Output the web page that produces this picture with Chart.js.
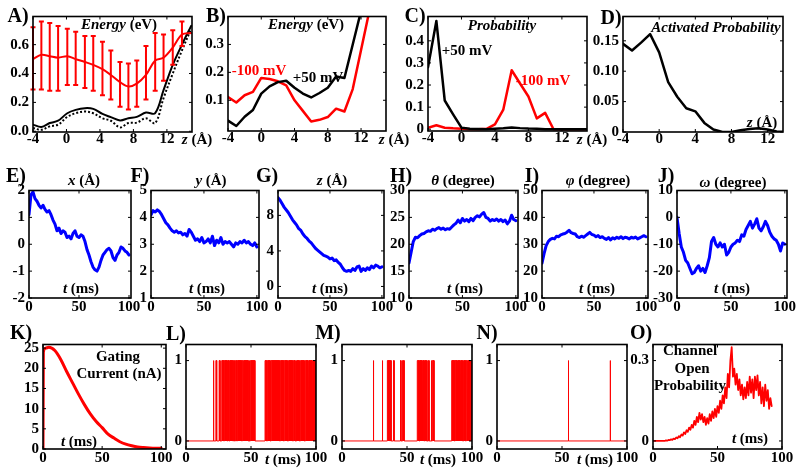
<!DOCTYPE html>
<html>
<head>
<meta charset="utf-8">
<script src="https://cdn.jsdelivr.net/npm/chart.js@4.4.0/dist/chart.umd.min.js"></script>
<style>
  body { margin: 0; width: 800px; height: 474px; background: #fff; position: relative; overflow: hidden; }
  canvas.p { position: absolute; }
  .t { position: absolute; transform: translate(-50%, -50%); white-space: nowrap; line-height: 1;
       font-family: 'Liberation Serif', 'Times New Roman', serif; font-weight: bold; font-size: 15px; color: #000; z-index: 5; }
</style>
</head>
<body>
<script>
// ---- row 1: energy / probability profiles along z (Å) ----
const aZ = [-4, -3, -2, -1, 0.1, 1.1, 2.2, 3.2, 4.3, 5.3, 6.4, 7.4, 8.4, 9.5, 10.6, 11.6, 12.7, 13.8, 14.9];
const aRed = [0.50, 0.53, 0.52, 0.51, 0.52, 0.50, 0.48, 0.46, 0.43, 0.39, 0.34, 0.31, 0.33, 0.39, 0.49, 0.51, 0.58, 0.67, 0.68];
const aHi = [0.72, 0.76, 0.75, 0.73, 0.71, 0.69, 0.66, 0.66, 0.62, 0.56, 0.48, 0.47, 0.49, 0.59, 0.68, 0.67, 0.70, 0.76];
const aLo = [0.29, 0.29, 0.28, 0.28, 0.32, 0.32, 0.30, 0.28, 0.25, 0.22, 0.17, 0.15, 0.17, 0.22, 0.28, 0.35, 0.46, 0.59];
const aSolid = [0.046, 0.03, 0.057, 0.073, 0.125, 0.148, 0.16, 0.155, 0.12, 0.098, 0.075, 0.09, 0.1, 0.13, 0.125, 0.285, 0.46, 0.6, 0.73];
const aDot = [0.023, 0.01, 0.034, 0.046, 0.10, 0.125, 0.137, 0.125, 0.09, 0.073, 0.027, 0.057, 0.06, 0.09, 0.057, 0.23, 0.40, 0.56, 0.71];

const zInt = [-4, -3, -2, -1, 0, 1, 2, 3, 4, 5, 6, 7, 8, 9, 10, 11, 12, 13, 14, 15];
const bPlus50 = [0.027, 0.008, 0.041, 0.065, 0.124, 0.15, 0.165, 0.17, 0.145, 0.124, 0.11, 0.126, 0.145, 0.185, 0.18, 0.3, 0.42, 0.8];
const bMinus100 = [0.112, 0.092, 0.118, 0.13, 0.18, 0.176, 0.168, 0.153, 0.10, 0.062, 0.024, 0.03, 0.04, 0.07, 0.06, 0.14, 0.28, 0.42, 0.75];
const cPlus50 = [0.28, 0.49, 0.13, 0.067, 0.007, 0.002, 0.001, 0, 0.002, 0.004, 0.008, 0.005, 0.003, 0.002, 0, 0, 0, 0, 0, 0];
const cMinus100 = [0.007, 0.018, 0.007, 0.004, 0.002, 0, 0, 0.002, 0.022, 0.089, 0.267, 0.207, 0.148, 0.049, 0.074, 0, 0, 0, 0, 0];
const dActive = [0.145, 0.134, 0.147, 0.161, 0.131, 0.082, 0.058, 0.039, 0.034, 0.015, 0.004, 0, 0, 0.003, 0.005, 0.006, 0.004, 0.001, 0];

const zTicks = [-4, 0, 4, 8, 12];
const zTickLabels = ['-4', '0', '4', '8', '12'];

// ---- row 2: trajectories vs t (ms) ----
const tRow2 = [0, 2, 4, 6, 8, 10, 12, 14, 16, 18, 20, 22, 24, 26, 28, 30, 32, 34, 36, 38, 40, 42, 44, 46, 48, 50,
  52, 54, 56, 58, 60, 62, 64, 66, 68, 70, 72, 74, 76, 78, 80, 82, 84, 86, 88, 90, 92, 94, 96, 98, 100];
const eX = [1.1, 1.85, 1.95, 1.7, 1.6, 1.45, 1.35, 1.45, 1.3, 1.2, 1.25, 1.1, 0.9, 0.75, 0.5, 0.6, 0.4, 0.5, 0.45, 0.25, 0.3, 0.2, 0.4, 0.5, 0.3, 0.25,
  0.35, 0.3, 0.1, -0.2, -0.4, -0.65, -0.85, -0.95, -1.0, -0.85, -0.6, -0.4, -0.3, -0.2, -0.15, -0.25, -0.5, -0.6, -0.4, -0.3, -0.1, -0.15, -0.25, -0.3, -0.4];
const fY = [4.1, 4.25, 4.2, 4.28, 4.22, 4.1, 3.95, 3.8, 3.72, 3.6, 3.5, 3.45, 3.5, 3.42, 3.45, 3.35, 3.4, 3.3, 3.55, 3.45, 3.3, 3.15, 3.2, 3.1, 3.25, 3.05,
  3.1, 3.2, 3.05, 3.3, 2.95, 3.15, 3.05, 3.25, 3.0, 3.1, 3.05, 3.1, 3.0, 2.9, 3.05, 3.0, 3.1, 3.05, 3.15, 3.05, 3.1, 3.0, 2.95, 3.05, 2.9];
const gZ = [10.0, 9.7, 9.3, 8.9, 8.6, 8.3, 7.9, 7.5, 7.2, 6.9, 6.5, 6.3, 5.9, 5.6, 5.4, 5.1, 4.9, 4.6, 4.3, 4.1, 3.9, 3.7, 3.5, 3.4, 3.3, 3.1,
  3.2, 2.9, 3.0, 2.7, 2.5, 2.1, 1.8, 1.7, 1.8, 1.7, 2.0, 1.8, 2.2, 2.3, 1.7, 2.0, 1.8, 2.1, 1.9, 2.3, 2.1, 2.4, 2.3, 2.1, 2.2];
const hTheta = [16.5, 18.5, 20.5, 21.3, 21.2, 21.6, 21.9, 22.0, 22.3, 22.5, 22.4, 22.8, 22.6, 22.9, 23.1, 22.8, 23.0, 22.7, 22.9, 22.8, 23.2, 23.6, 23.9, 24.5, 24.0, 24.8,
  24.3, 24.6, 24.2, 24.8, 24.4, 25.0, 25.3, 25.1, 25.6, 25.9, 25.0, 24.8, 24.3, 24.6, 24.4, 24.7, 24.3, 24.6, 24.2, 24.5, 23.8, 24.3, 25.4, 24.6, 24.4];
const iPhi = [23, 26.5, 29.5, 31, 31.8, 32.2, 32.0, 33.0, 32.8, 33.5, 33.8, 34.0, 34.5, 35.2, 34.3, 34.0, 33.8, 32.8, 32.5, 33.0, 32.6, 33.2, 33.8, 34.4, 33.6, 33.4,
  32.8, 33.2, 32.5, 32.8, 32.2, 31.8, 32.5, 31.6, 32.4, 32.0, 32.6, 32.2, 32.8, 32.1, 32.6, 32.4, 32.0, 32.6, 32.3, 32.7, 32.0, 32.4, 32.8, 33.2, 32.8];
const jOmega = [0, -6, -11, -13, -16, -17, -19, -21, -20.5, -19, -18, -20, -19, -20.5, -18, -15, -9, -7.5, -10, -11, -9.5, -11, -10, -14, -13, -11,
  -10, -9.5, -8.5, -9, -6.5, -7, -4.5, -3, -1.5, -4, -2.5, -0.5, -4, -5, -3.5, -1.5, -3, -5.5, -7, -8, -8.5, -10, -12.5, -9.5, -10];

// ---- row 3: gating current, single channel records, open probability ----
const kT = [0, 0.3, 2, 5, 10, 15, 20, 25, 30, 35, 40, 45, 50, 55, 60, 65, 70, 75, 80, 85, 90, 95, 100];
const kCurrent = [0, 24, 25.0, 25.2, 24.4, 22.2, 19.2, 16.4, 13.6, 11.0, 8.7, 6.8, 5.3, 3.7, 2.7, 1.8, 1.2, 0.8, 0.5, 0.35, 0.25, 0.2, 0.2];
const lOpen = [[21, 21.4], [23, 23.6], [25.5, 26.2], [27.5, 29], [29.5, 31.5], [32, 33], [33.6, 36], [36.5, 37.2], [38, 39], [39.5, 42.8],
  [43.3, 44], [44.5, 47.9], [48.5, 49], [49.5, 53], [60.8, 62], [62.6, 64.8], [65.5, 72], [72.6, 75], [75.6, 78], [78.8, 82],
  [82.6, 84], [85, 87.2], [88, 91], [91.8, 94], [94.6, 97], [97.6, 100]];
const mOpen = [[24, 24.4], [30.9, 31.3], [34.9, 36.8], [37.2, 37.8], [39.6, 40.1], [45, 45.4], [46.6, 47], [47.4, 47.8], [57.9, 59.5],
  [60, 61.6], [62.2, 63], [63.5, 64.5], [65, 65.4], [66.5, 67], [68.5, 69], [69.5, 70.8], [84.4, 86.5], [87, 88.5], [89, 91],
  [91.5, 92.8], [93.5, 95], [95.6, 96.2], [96.8, 98.3], [98.8, 100]];
const nOpen = [[54.8, 55.1], [87, 87.3]];
const oT = [0, 1, 2, 3, 4, 5, 6, 7, 8, 9, 10, 11, 12, 13, 14, 15, 16, 17, 18, 19, 20, 21, 22, 23, 24, 25, 26, 27, 28, 29,
  30, 31, 32, 33, 34, 35, 36, 37, 38, 39, 40, 41, 42, 43, 44, 45, 46, 47, 48, 49, 50, 51, 52, 53, 54, 55, 56, 57, 58, 59,
  60, 61, 62, 63, 64, 65, 66, 67, 68, 69, 70, 71, 72, 73, 74, 75, 76, 77, 78, 79, 80, 81, 82, 83, 84, 85, 86, 87, 88, 89, 90, 91, 92];
const oProb = [0, 0, 0, 0, 0, 0, 0, 0, 0, 0,
  0.002, 0.001, 0.004, 0.003, 0.006, 0.004, 0.009, 0.007, 0.013, 0.01,
  0.018, 0.014, 0.024, 0.02, 0.032, 0.026, 0.04, 0.034, 0.05, 0.042,
  0.06, 0.05, 0.075, 0.06, 0.09, 0.07, 0.105, 0.08, 0.1, 0.07,
  0.09, 0.06, 0.085, 0.065, 0.1, 0.075, 0.11, 0.085, 0.12, 0.09,
  0.13, 0.105, 0.15, 0.12, 0.17, 0.14, 0.2, 0.16, 0.25, 0.2,
  0.3, 0.35, 0.24, 0.27, 0.21, 0.25, 0.19, 0.23, 0.17, 0.21,
  0.155, 0.2, 0.16, 0.22, 0.17, 0.24, 0.18, 0.23, 0.16, 0.24,
  0.19, 0.245, 0.17, 0.22, 0.14, 0.2, 0.13, 0.21, 0.15, 0.19,
  0.12, 0.16, 0.13];

const tTicks = [0, 50, 100];
const tTickLabels = ['0', '50', '100'];

// ---------------------------------------------------------------
const SERIF = "'Liberation Serif', 'Times New Roman', serif";
const FONT = { family: SERIF, size: 15, weight: 'bold', lineHeight: 1 };
const PL = 44, PR = 18, PT = 10, PB = 24;
const RED = '#ff0000', BLUE = '#0000ff';

// box + MATLAB style inward ticks
const frame = {
  id: 'frame',
  afterDatasetsDraw(chart) {
    const { ctx, chartArea: a, scales: { x, y } } = chart;
    ctx.save();
    ctx.strokeStyle = '#000';
    ctx.lineWidth = 1;
    ctx.beginPath();
    x.ticks.forEach(t => {
      const px = x.getPixelForValue(t.value);
      ctx.moveTo(px, a.bottom); ctx.lineTo(px, a.bottom - 3);
      ctx.moveTo(px, a.top); ctx.lineTo(px, a.top + 3);
    });
    y.ticks.forEach(t => {
      const py = y.getPixelForValue(t.value);
      ctx.moveTo(a.left, py); ctx.lineTo(a.left + 3, py);
      ctx.moveTo(a.right, py); ctx.lineTo(a.right - 3, py);
    });
    ctx.stroke();
    ctx.lineWidth = 1.6;
    ctx.strokeRect(a.left, a.top, a.right - a.left, a.bottom - a.top);
    ctx.restore();
  }
};

// error bars for panel A
const errBars = {
  id: 'errBars',
  afterDatasetsDraw(chart) {
    const { ctx, scales: { x, y } } = chart;
    ctx.save();
    ctx.strokeStyle = RED;
    ctx.lineWidth = 2;
    ctx.beginPath();
    aLo.forEach((lo, i) => {
      const px = x.getPixelForValue(aZ[i]);
      const p1 = y.getPixelForValue(lo), p2 = y.getPixelForValue(aHi[i]);
      ctx.moveTo(px, p1); ctx.lineTo(px, p2);
      ctx.moveTo(px - 2.5, p1); ctx.lineTo(px + 2.5, p1);
      ctx.moveTo(px - 2.5, p2); ctx.lineTo(px + 2.5, p2);
    });
    ctx.stroke();
    ctx.restore();
  }
};

function axis(id, ax) {
  return {
    type: 'linear', min: ax.r[0], max: ax.r[1],
    grid: { display: false, drawTicks: false },
    border: { display: false },
    afterBuildTicks: s => { s.ticks = ax.t.map(v => ({ value: v })); },
    afterFit: s => { if (id === 'x') s.height = PB; else s.width = PL; },
    ticks: {
      font: FONT, color: '#000', padding: ax.pad === undefined ? 4 : ax.pad,
      autoSkip: false, maxRotation: 0,
      callback: (v, i) => ax.l[i]
    }
  };
}

function panel(box, xAx, yAx, datasets, extra) {
  const [l, t, r, b] = box;
  const w = r - l + PL + PR, h = b - t + PT + PB;
  const c = document.createElement('canvas');
  c.className = 'p';
  c.width = w; c.height = h;
  c.style.left = (l - PL) + 'px';
  c.style.top = (t - PT) + 'px';
  c.style.width = w + 'px';
  c.style.height = h + 'px';
  document.body.appendChild(c);
  new Chart(c, {
    type: 'line',
    data: { datasets },
    options: {
      responsive: false, animation: false, devicePixelRatio: 1,
      layout: { padding: { top: PT, right: PR, left: 0, bottom: 0 } },
      plugins: { legend: { display: false }, tooltip: { enabled: false } },
      elements: { point: { radius: 0 }, line: { borderJoinStyle: 'round', borderCapStyle: 'round' } },
      scales: { x: axis('x', xAx), y: axis('y', yAx) }
    },
    plugins: (extra || []).concat([frame])
  });
}

function line(xs, ys, color, width, more) {
  return Object.assign({
    data: ys.map((v, i) => ({ x: xs[i], y: v })),
    borderColor: color, borderWidth: width, fill: false, tension: 0, pointRadius: 0
  }, more || {});
}

// open intervals -> 0/1 record
function record(opens) {
  const pts = [{ x: 0, y: 0 }];
  opens.forEach(([s, e]) => pts.push({ x: s, y: 0 }, { x: s, y: 1 }, { x: e, y: 1 }, { x: e, y: 0 }));
  pts.push({ x: 100, y: 0 });
  return { data: pts, borderColor: RED, borderWidth: 1, fill: 'origin', backgroundColor: RED, pointRadius: 0, tension: 0 };
}

// ---- row 1 ----
const zAx = { r: [-4, 15], t: zTicks, l: zTickLabels, pad: 0 };
panel([33, 15, 192, 132], zAx,
  { r: [-0.005, 0.795], t: [0, 0.2, 0.4, 0.6], l: ['0.0', '0.2', '0.4', '0.6'] },
  [line(aZ, aRed, RED, 2, { tension: 0.35 }),
   line(aZ, aSolid, '#000', 2, { tension: 0.35 }),
   line(aZ, aDot, '#000', 2, { tension: 0.35, borderDash: [2, 2], borderCapStyle: 'butt' })],
  [errBars]);
panel([228, 15, 386, 131], zAx,
  { r: [-0.01, 0.4], t: [0.1, 0.2, 0.3], l: ['0.1', '0.2', '0.3'] },
  [line(zInt, bPlus50, '#000', 2.5), line(zInt, bMinus100, RED, 2.5)]);
panel([428, 15, 587, 131], zAx,
  { r: [-0.008, 0.51], t: [0, 0.1, 0.2, 0.3, 0.4], l: ['0', '0.1', '0.2', '0.3', '0.4'] },
  [line(zInt, cPlus50, '#000', 2.5), line(zInt, cMinus100, RED, 2.5)]);
panel([623, 15, 783, 132], { r: [-4, 13.7], t: zTicks, l: zTickLabels, pad: 0 },
  { r: [0, 0.19], t: [0, 0.05, 0.1, 0.15], l: ['0', '0.05', '0.10', '0.15'] },
  [line(zInt, dActive, '#000', 2.5)]);

// ---- row 2 ----
const tAx2 = { r: [0, 102], t: tTicks, l: tTickLabels, pad: 2 };
const row2 = [
  [[29, 189, 131, 298], { r: [-2, 2], t: [-2, -1, 0, 1, 2], l: ['-2', '-1', '0', '1', '2'] }, eX],
  [[151, 189, 259, 298], { r: [1, 5], t: [1, 2, 3, 4, 5], l: ['1', '2', '3', '4', '5'] }, fY],
  [[278, 189, 384, 298], { r: [-1.3, 10.8], t: [0, 4, 8], l: ['0', '4', '8'] }, gZ],
  [[409, 189, 518, 298], { r: [10, 30], t: [10, 15, 20, 25, 30], l: ['10', '15', '20', '25', '30'] }, hTheta],
  [[542, 189, 648, 298], { r: [10, 50], t: [10, 20, 30, 40, 50], l: ['10', '20', '30', '40', '50'] }, iPhi],
  [[677, 189, 787, 298], { r: [-30, 10], t: [-30, -20, -10, 0, 10], l: ['-30', '-20', '-10', '0', '10'] }, jOmega]
];
row2.forEach(([box, yAx, vals]) => panel(box, tAx2, yAx, [line(tRow2, vals, BLUE, 3)]));

// ---- row 3 ----
panel([43, 343, 166, 449], { r: [0, 104], t: tTicks, l: tTickLabels, pad: 2 },
  { r: [0, 25.9], t: [0, 5, 10, 15, 20, 25], l: ['0', '5', '10', '15', '20', '25'] },
  [line(kT, kCurrent, RED, 3, { cubicInterpolationMode: 'monotone' })]);
const tAx3 = { r: [0, 100], t: tTicks, l: tTickLabels, pad: 2 };
const binAx = { r: [-0.1, 1.2], t: [0, 1], l: ['0', '1'] };
panel([186, 343, 316, 449], tAx3, binAx, [record(lOpen)]);
panel([342, 343, 472, 449], tAx3, binAx, [record(mOpen)]);
panel([497, 343, 627, 449], tAx3, binAx, [record(nOpen)]);
panel([653, 343, 782, 449], tAx3, { r: [-0.03, 0.36], t: [0, 0.3], l: ['0', '0.3'] },
  [line(oT, oProb, RED, 1.8)]);

// ---- text ----
const texts = [
  ['A)', 18, 15, 20], ['B)', 216, 15, 20], ['C)', 415, 15, 20], ['D)', 611, 17, 20],
  ['<i>Energy</i> (eV)', 119, 24], ['<i>Energy</i> (eV)', 306, 24], ['<i>Probability</i>', 502, 25], ['<i>Activated Probability</i>', 716, 27],
  ['<i>z</i> (Å)', 197, 139], ['<i>z</i> (Å)', 394, 139], ['<i>z</i> (Å)', 592, 139], ['<i>z</i> (Å)', 762, 122],
  ['-100 mV', 259, 70, 15, RED], ['+50 mV', 318, 77], ['+50 mV', 467, 50], ['-100 mV', 543, 80, 15, RED],
  ['E)', 16, 175, 20], ['F)', 140, 175, 20], ['G)', 267, 175, 20], ['H)', 401, 175, 20], ['I)', 532, 175, 20], ['J)', 666, 175, 20],
  ['<i>x</i> (Å)', 84, 180], ['<i>y</i> (Å)', 211, 180], ['<i>z</i> (Å)', 332, 180],
  ['<i>θ</i> (degree)', 463, 180], ['<i>φ</i> (degree)', 598, 180], ['<i>ω</i> (degree)', 733, 182],
  ['<i>t</i> (ms)', 81, 288], ['<i>t</i> (ms)', 207, 288], ['<i>t</i> (ms)', 330, 288],
  ['<i>t</i> (ms)', 465, 288], ['<i>t</i> (ms)', 597, 288], ['<i>t</i> (ms)', 732, 288],
  ['K)', 21, 332, 20], ['L)', 176, 333, 20], ['M)', 328, 332, 20], ['N)', 487, 332, 20], ['O)', 641, 332, 20],
  ['Gating', 118, 356], ['Current (nA)', 119, 373], ['<i>t</i> (ms)', 79, 441],
  ['<i>t</i> (ms)', 283, 459], ['<i>t</i> (ms)', 438, 459], ['<i>t</i> (ms)', 595, 459],
  ['Channel', 690, 350], ['Open', 692, 368], ['Probability', 690, 385], ['<i>t</i> (ms)', 750, 438]
];
texts.forEach(([html, x, y, size, color]) => {
  const d = document.createElement('div');
  d.className = 't';
  d.innerHTML = html;
  d.style.left = x + 'px';
  d.style.top = y + 'px';
  if (size) d.style.fontSize = size + 'px';
  if (color) d.style.color = color;
  document.body.appendChild(d);
});
</script>
</body>
</html>
